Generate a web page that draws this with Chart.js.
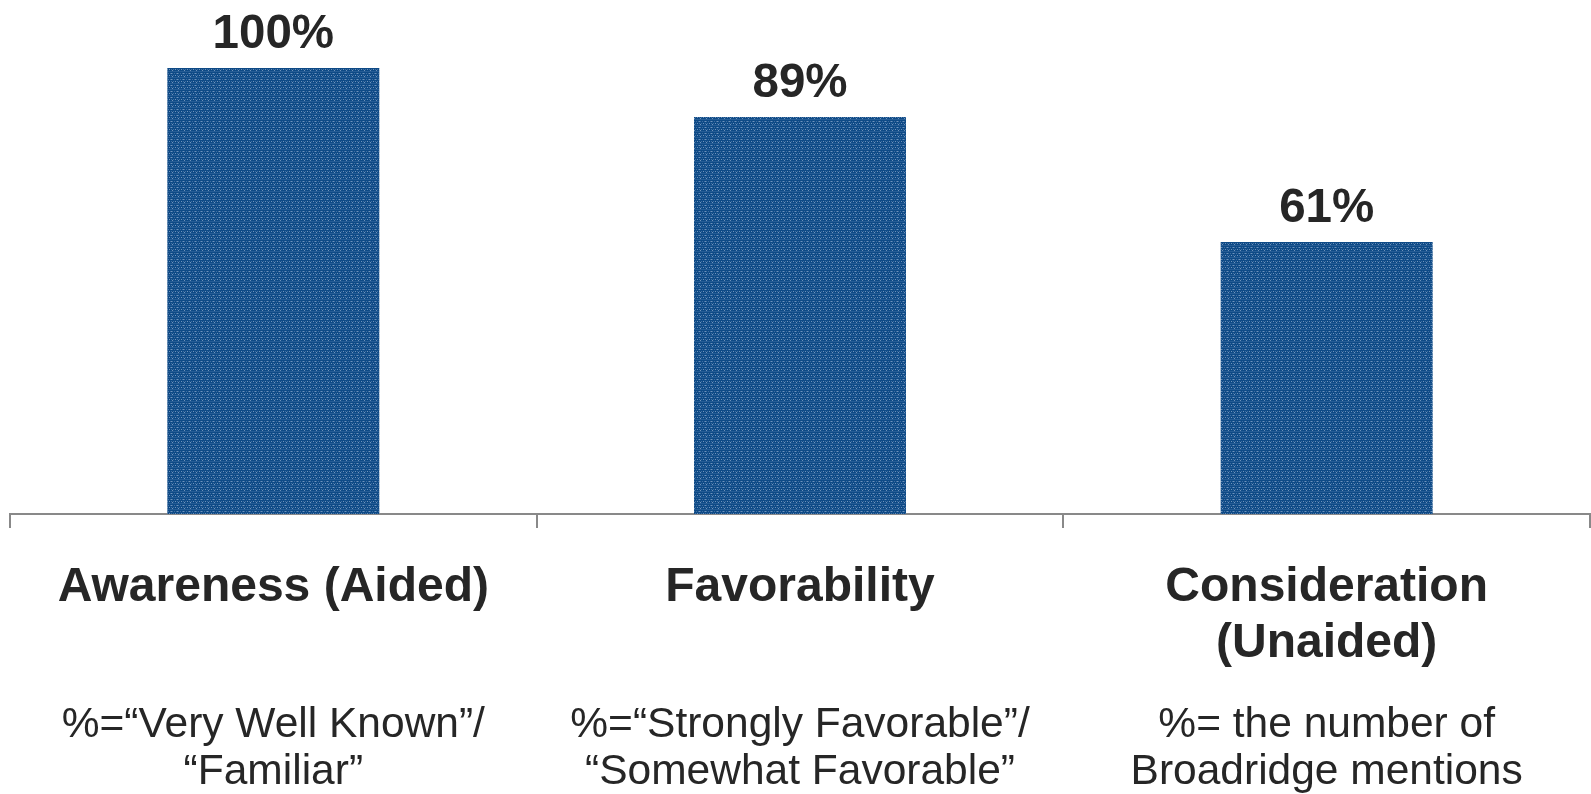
<!DOCTYPE html>
<html>
<head>
<meta charset="utf-8">
<script src="https://cdn.jsdelivr.net/npm/chart.js@4/dist/chart.umd.min.js"></script>
<style>
  html, body { margin: 0; padding: 0; background: #ffffff; }
  #wrap { width: 1591px; height: 794px; }
</style>
</head>
<body>
<div id="wrap"><canvas id="c" width="1591" height="794"></canvas></div>
<script>
// Category names (bold) and their definitions (regular)
const categories = [
  ['Awareness (Aided)'],
  ['Favorability'],
  ['Consideration', '(Unaided)']
];
const definitions = [
  ['%=\u201cVery Well Known\u201d/', '\u201cFamiliar\u201d'],
  ['%=\u201cStrongly Favorable\u201d/', '\u201cSomewhat Favorable\u201d'],
  ['%= the number of', 'Broadridge mentions']
];
const values = [100, 89, 61];

const FONT = '"Liberation Sans", Arial, Helvetica, sans-serif';
const TEXT = '#262626';
const AXIS = '#898989';

// Woven blue fill for the bars
function makeWeave() {
  const t = document.createElement('canvas');
  t.width = 6; t.height = 6;
  const g = t.getContext('2d');
  g.fillStyle = '#0e4a86';
  g.fillRect(0, 0, 6, 6);
  g.fillStyle = '#3f6fa3';
  for (let i = 0; i < 6; i += 2) { g.fillRect(i, 1, 1, 1); g.fillRect(i + 1, 3, 1, 1); }
  g.fillStyle = '#6f93bb';
  g.fillRect(3, 1, 1, 1); g.fillRect(1, 3, 1, 1); g.fillRect(4, 4, 1, 1);
  g.fillStyle = '#255c95';
  g.fillRect(0, 5, 6, 1);
  return g.createPattern(t, 'repeat');
}

// Percentage labels above each bar
const valueLabels = {
  id: 'valueLabels',
  afterDatasetsDraw(chart) {
    const ctx = chart.ctx;
    const meta = chart.getDatasetMeta(0);
    ctx.save();
    ctx.font = 'bold 47.5px ' + FONT;
    ctx.fillStyle = TEXT;
    ctx.textAlign = 'center';
    ctx.textBaseline = 'alphabetic';
    meta.data.forEach((bar, i) => {
      ctx.fillText(values[i] + '%', bar.x, bar.y - 20);
    });
    ctx.restore();
  }
};

new Chart(document.getElementById('c'), {
  type: 'bar',
  data: {
    labels: categories,
    datasets: [{
      data: values,
      backgroundColor: makeWeave(),
      borderWidth: 0,
      barPercentage: 0.4025,
      categoryPercentage: 1
    }]
  },
  options: {
    responsive: false,
    animation: false,
    events: [],
    layout: { padding: { top: 68, left: 10, right: 1, bottom: 1 } },
    plugins: { legend: { display: false }, tooltip: { enabled: false } },
    scales: {
      y: { display: false, min: 0, max: 100 },
      x: {
        position: 'bottom',
        weight: 0,
        grid: {
          display: true, drawOnChartArea: false, drawTicks: true,
          tickLength: 14, color: AXIS, lineWidth: 2, offset: true
        },
        border: { display: true, color: AXIS, width: 2 },
        ticks: {
          autoSkip: false, maxRotation: 0, minRotation: 0,
          padding: 32, color: TEXT,
          font: { family: FONT, size: 48, weight: 'bold', lineHeight: 56 / 48 }
        }
      },
      x2: {
        type: 'category',
        position: 'bottom',
        weight: 1,
        labels: definitions,
        offset: true,
        grid: { display: false, drawTicks: false, tickLength: 0 },
        border: { display: false },
        ticks: {
          autoSkip: false, maxRotation: 0, minRotation: 0,
          padding: -2.5, color: TEXT,
          font: { family: FONT, size: 42.5, weight: 'normal', lineHeight: 47 / 42.5 }
        }
      }
    }
  },
  plugins: [valueLabels]
});
</script>
</body>
</html>
